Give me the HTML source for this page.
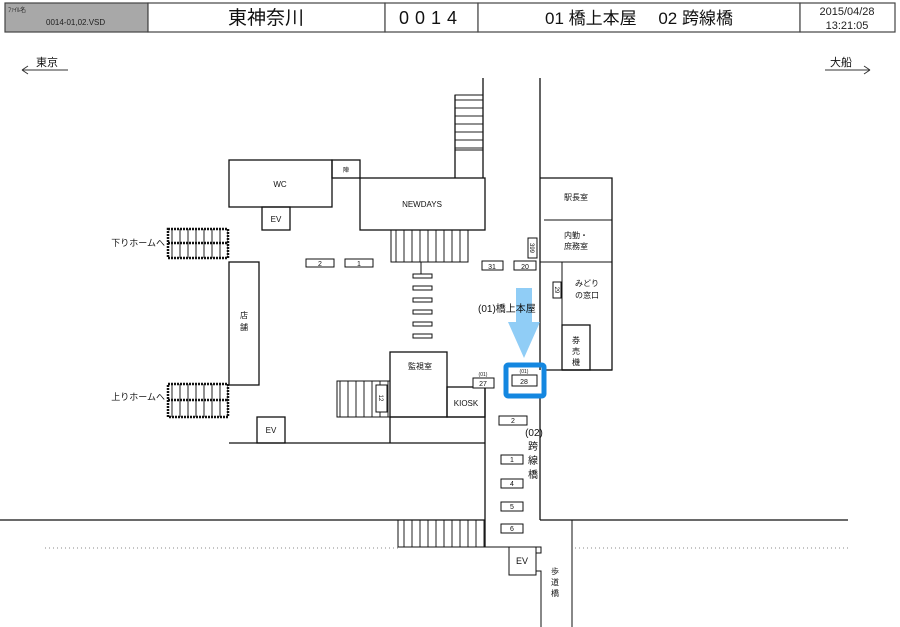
<!DOCTYPE html>
<html><head><meta charset="utf-8"><style>
html,body{margin:0;padding:0;background:#fff;}
svg{display:block;font-family:"Liberation Sans","Noto Sans CJK JP",sans-serif;}
</style></head><body>
<svg width="900" height="627" viewBox="0 0 900 627" xmlns="http://www.w3.org/2000/svg">
<defs>
<pattern id="st" width="8" height="10" patternUnits="userSpaceOnUse"><line x1="4" y1="0" x2="4" y2="10" stroke="#222" stroke-width="1"/></pattern>
<pattern id="sth" width="10" height="8" patternUnits="userSpaceOnUse"><line x1="0" y1="4" x2="10" y2="4" stroke="#222" stroke-width="1"/></pattern>
</defs>
<!-- header -->
<g stroke="#444" stroke-width="1.2">
<rect x="5" y="3" width="143" height="29" fill="#a8a8a8"/>
<rect x="148" y="3" width="237" height="29" fill="#fff"/>
<rect x="385" y="3" width="93" height="29" fill="#fff"/>
<rect x="478" y="3" width="322" height="29" fill="#fff"/>
<rect x="800" y="3" width="95" height="29" fill="#fff"/>
</g>
<text x="8" y="12" font-size="6" fill="#222">ﾌｧｲﾙ名</text>
<text x="46" y="25" font-size="8" fill="#222">0014-01,02.VSD</text>
<text x="266" y="24" font-size="19" text-anchor="middle" fill="#111">東神奈川</text>
<text x="431" y="24" font-size="18" text-anchor="middle" fill="#111" letter-spacing="6">0014</text>
<text x="639" y="24" font-size="17" text-anchor="middle" fill="#111">01 橋上本屋　 02 跨線橋</text>
<text x="847" y="15" font-size="11" text-anchor="middle" fill="#222">2015/04/28</text>
<text x="847" y="29" font-size="11" text-anchor="middle" fill="#222">13:21:05</text>
<!-- direction -->
<text x="36" y="66" font-size="11" fill="#111">東京</text>
<path d="M22 70 H68 M22 70 l6 -4 M22 70 l6 4" stroke="#333" fill="none"/>
<text x="830" y="66" font-size="11" fill="#111">大船</text>
<path d="M825 70 H870 M870 70 l-6 -4 M870 70 l-6 4" stroke="#333" fill="none"/>
<g stroke="#111" stroke-width="1.3" fill="none">
<!-- top stairs -->
<line x1="483" y1="78" x2="483" y2="178"/>
<line x1="455" y1="95" x2="455" y2="178"/>
<rect x="455" y="95" width="28" height="55" fill="url(#sth)" stroke-width="1"/>
<line x1="540" y1="78" x2="540" y2="178"/>
<!-- WC -->
<rect x="229" y="160" width="103" height="47"/>
<rect x="332" y="160" width="28" height="18"/>
<rect x="360" y="178" width="125" height="52"/>
<rect x="262" y="207" width="28" height="23"/>
<!-- stairs under newdays -->
<rect x="391" y="230" width="77" height="32" fill="url(#st)" stroke-width="1"/>
<line x1="421" y1="262" x2="421" y2="277" stroke-width="1"/>
<!-- station rooms -->
<path d="M540 178 H612 V370 H562"/>
<line x1="540" y1="178" x2="540" y2="370"/>
<line x1="544" y1="220" x2="612" y2="220" stroke-width="1"/>
<line x1="540" y1="262" x2="612" y2="262" stroke-width="1"/>
<line x1="562" y1="262" x2="562" y2="370" stroke-width="1"/>
<rect x="562" y="325" width="28" height="45"/>
<line x1="545" y1="370" x2="612" y2="370"/>
<!-- left -->
<rect x="229" y="262" width="30" height="123"/>
<rect x="168" y="229" width="60" height="29" fill="url(#st)" stroke-width="2.5" stroke-dasharray="2 1"/>
<line x1="168" y1="243" x2="228" y2="243" stroke-width="2.5" stroke-dasharray="2 1"/>
<rect x="168" y="384" width="60" height="33" fill="url(#st)" stroke-width="2.5" stroke-dasharray="2 1"/>
<line x1="168" y1="400" x2="228" y2="400" stroke-width="2.5" stroke-dasharray="2 1"/>
<rect x="257" y="417" width="28" height="26"/>
<line x1="229" y1="443" x2="485" y2="443"/>
<!-- kanshi -->
<rect x="390" y="352" width="57" height="65"/>
<rect x="447" y="387" width="38" height="30"/>
<line x1="390" y1="417" x2="485" y2="417"/>
<line x1="390" y1="417" x2="390" y2="443"/>
<rect x="337" y="381" width="53" height="36" fill="url(#st)" stroke-width="1"/>
<rect x="376" y="385" width="11" height="27" fill="#fff" stroke-width="1"/>
<!-- corridor -->
<line x1="485" y1="387" x2="485" y2="547"/>
<line x1="540" y1="397" x2="540" y2="520"/>
<line x1="540" y1="520" x2="848" y2="520"/>
<line x1="572" y1="520" x2="572" y2="627" stroke-width="1"/>
<line x1="0" y1="520" x2="485" y2="520"/>
<rect x="398" y="520" width="87" height="27" fill="url(#st)" stroke-width="1"/>
<line x1="485" y1="547" x2="536" y2="547" stroke-width="1"/>
<rect x="509" y="547" width="27" height="28" stroke-width="1"/>
<rect x="536" y="547" width="5" height="6" stroke-width="1"/>
<path d="M536 571 H541 V627" stroke-width="1"/>
</g>
<line x1="45" y1="548" x2="398" y2="548" stroke="#888" stroke-dasharray="1 3"/>
<line x1="575" y1="548" x2="850" y2="548" stroke="#888" stroke-dasharray="1 3"/>
<!-- small plates -->
<g stroke="#111" stroke-width="1" fill="#fff">
<rect x="413" y="274" width="19" height="4"/><rect x="413" y="286" width="19" height="4"/><rect x="413" y="298" width="19" height="4"/><rect x="413" y="310" width="19" height="4"/><rect x="413" y="322" width="19" height="4"/><rect x="413" y="334" width="19" height="4"/>
<rect x="306" y="259" width="28" height="8"/><rect x="345" y="259" width="28" height="8"/>
<rect x="482" y="261" width="21" height="9"/><rect x="514" y="261" width="22" height="9"/>
<rect x="528" y="238" width="9" height="20"/><rect x="553" y="282" width="8" height="16"/>
<rect x="473" y="378" width="21" height="10"/>
<rect x="512" y="375" width="25" height="11"/>
<rect x="499" y="416" width="28" height="9"/>
<rect x="501" y="455" width="22" height="9"/><rect x="501" y="479" width="22" height="9"/><rect x="501" y="502" width="22" height="9"/><rect x="501" y="524" width="22" height="9"/>
</g>
<!-- blue -->
<rect x="506" y="365" width="38" height="31" rx="2" fill="none" stroke="#1487e0" stroke-width="5"/>
<path d="M516 288 H532 V322 H540 L524 358 L508 322 H516 Z" fill="#90cdf6"/>
<text x="478" y="312" font-size="10" fill="#111">(01)橋上本屋</text>
<!-- labels -->
<g font-size="8" fill="#111" text-anchor="middle">
<text x="280" y="187">WC</text>
<text x="346" y="172" font-size="6">陣</text>
<text x="422" y="207">NEWDAYS</text>
<text x="276" y="222">EV</text>
<text x="576" y="200">駅長室</text>
<text x="576" y="238">内勤・</text>
<text x="576" y="249">庶務室</text>
<text x="587" y="286">みどり</text>
<text x="587" y="298">の窓口</text>
<text x="576" y="343">券</text><text x="576" y="354">売</text><text x="576" y="365">機</text>
<text x="244" y="318">店</text><text x="244" y="330">舗</text>
<text x="271" y="433">EV</text>
<text x="420" y="369">監視室</text>
<text x="466" y="406">KIOSK</text>
<text x="320" y="266" font-size="7">2</text><text x="359" y="266" font-size="7">1</text>
<text x="492" y="269" font-size="7">31</text><text x="525" y="269" font-size="7">20</text>
<text x="483" y="376" font-size="5">(01)</text><text x="483" y="386" font-size="7">27</text>
<text x="524" y="373" font-size="5">(01)</text><text x="524" y="384" font-size="7">28</text>
<text x="513" y="423" font-size="7">2</text>
<text x="512" y="462" font-size="7">1</text><text x="512" y="486" font-size="7">4</text><text x="512" y="509" font-size="7">5</text><text x="512" y="531" font-size="7">6</text>
<text x="522" y="564" font-size="9">EV</text>
<text x="555" y="574">歩</text><text x="555" y="585">道</text><text x="555" y="596">橋</text>
<text x="534" y="436" font-size="10">(02)</text>
<text x="533" y="450" font-size="10">跨</text><text x="533" y="464" font-size="10">線</text><text x="533" y="478" font-size="10">橋</text>
</g>
<text x="165" y="246" font-size="9" text-anchor="end" fill="#111">下りホームへ</text>
<text x="165" y="400" font-size="9" text-anchor="end" fill="#111">上りホームへ</text>
<text transform="translate(530,248) rotate(90)" font-size="6" text-anchor="middle" fill="#111">399</text>
<text transform="translate(555,290) rotate(90)" font-size="6" text-anchor="middle" fill="#111">29</text>
<text transform="translate(379,398) rotate(90)" font-size="6" text-anchor="middle" fill="#111">12</text>
</svg>
</body></html>
